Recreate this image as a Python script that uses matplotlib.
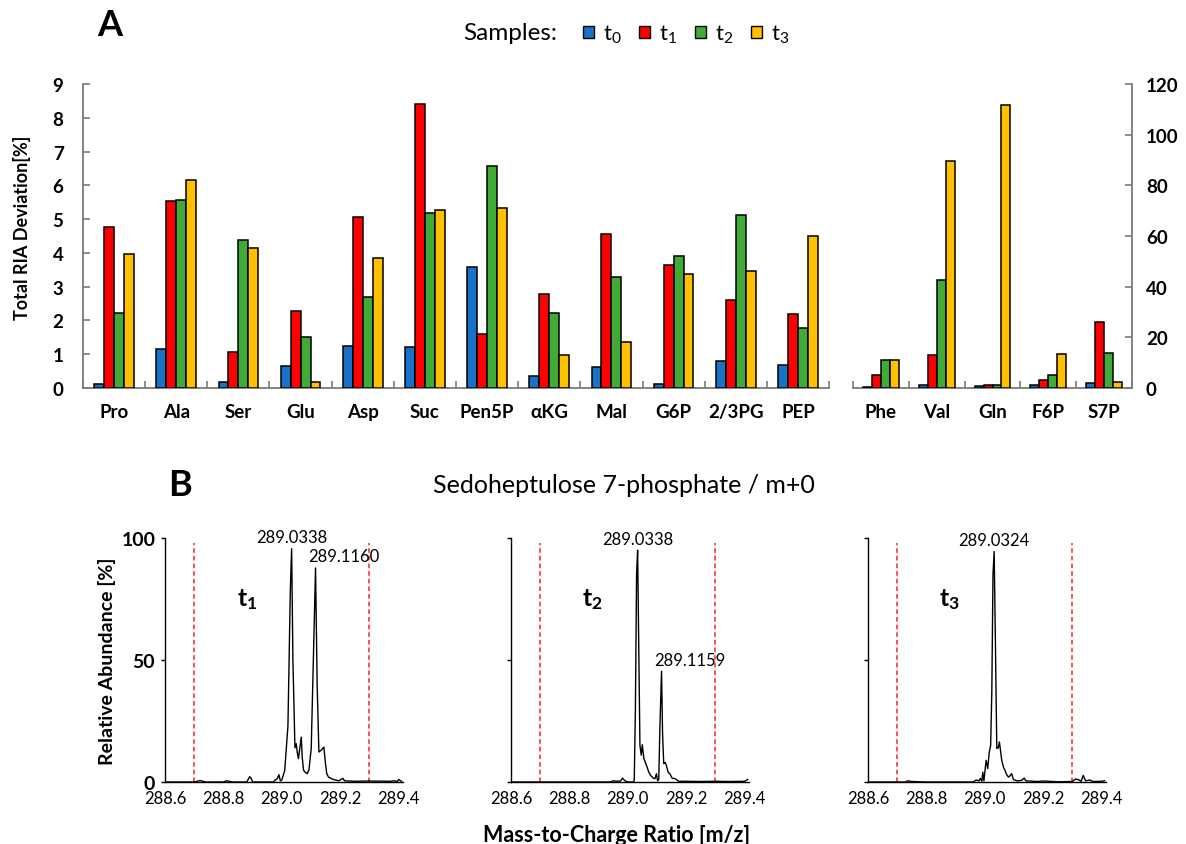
import numpy as np
import matplotlib
matplotlib.use("Agg")
import matplotlib.pyplot as plt
from matplotlib.patches import Patch

plt.rcParams['font.family'] = ['Lato', 'DejaVu Sans']
plt.rcParams['mathtext.fontset'] = 'custom'
plt.rcParams['mathtext.rm'] = 'Lato'
plt.rcParams['mathtext.it'] = 'Lato:italic'
plt.rcParams['mathtext.bf'] = 'Lato:bold'

# ---- panel A data ----
samples = ['t0', 't1', 't2', 't3']
sample_labels = [r'$\mathrm{t}_0$', r'$\mathrm{t}_1$', r'$\mathrm{t}_2$', r'$\mathrm{t}_3$']
colors = ['#1a72c8', '#ff0000', '#41ab37', '#ffc000']

left_cats = ['Pro', 'Ala', 'Ser', 'Glu', 'Asp', 'Suc', 'Pen5P', 'αKG', 'Mal', 'G6P', '2/3PG', 'PEP']
left_t0 = [0.13, 1.14, 0.17, 0.66, 1.24, 1.21, 3.59, 0.35, 0.61, 0.12, 0.80, 0.69]
left_t1 = [4.77, 5.54, 1.07, 2.29, 5.06, 8.41, 1.61, 2.77, 4.56, 3.64, 2.61, 2.18]
left_t2 = [2.23, 5.57, 4.38, 1.52, 2.69, 5.19, 6.57, 2.22, 3.29, 3.91, 5.11, 1.79]
left_t3 = [3.96, 6.16, 4.14, 0.19, 3.86, 5.27, 5.32, 0.98, 1.36, 3.37, 3.45, 4.50]

right_cats = ['Phe', 'Val', 'Gln', 'F6P', 'S7P']
right_t0 = [0.3, 1.0, 0.8, 1.0, 1.9]
right_t1 = [5.3, 13.1, 1.3, 3.0, 26.2]
right_t2 = [11.2, 42.5, 1.0, 5.3, 13.7]
right_t3 = [10.9, 89.5, 111.7, 13.3, 2.4]

left_ticks = [0, 1, 2, 3, 4, 5, 6, 7, 8, 9]
right_ticks = [0, 20, 40, 60, 80, 100, 120]

# ---- panel B data (m/z, relative abundance) ----
spec_t1 = [(288.60, 0), (288.70, 0), (288.72, 0.6), (288.73, 0.3), (288.74, 0), (288.80, 0),
           (288.81, 0.5), (288.82, 0.3), (288.83, 0), (288.88, 0), (288.89, 2.2), (288.895, 1.5),
           (288.90, 0), (288.97, 0), (288.985, 1.5), (288.99, 3.0), (288.995, 0.5), (289.00, 0.8),
           (289.01, 4.8), (289.021, 23), (289.029, 78), (289.0336, 95.6), (289.038, 50),
           (289.045, 14), (289.0495, 15.7), (289.053, 12), (289.057, 9.6), (289.0666, 18.4),
           (289.070, 10), (289.0745, 4.8), (289.080, 4.0), (289.087, 3.4), (289.093, 5.0),
           (289.1007, 13.7), (289.108, 50), (289.1155, 87.7), (289.121, 40), (289.127, 12.3),
           (289.135, 13), (289.144, 14.3), (289.150, 7), (289.154, 3.4), (289.160, 2.0),
           (289.175, 1.1), (289.195, 0.5), (289.205, 1.2), (289.209, 1.5), (289.215, 0.5),
           (289.25, 0.3), (289.30, 0.4), (289.37, 0.3), (289.385, 0.5), (289.395, 0.2),
           (289.40, 1.0), (289.41, 0.3)]
spec_t2 = [(288.60, 0), (288.94, 0), (288.95, 0.5), (288.96, 0.3), (288.975, 0.4), (288.982, 1.6),
           (288.99, 0.5), (289.00, 0), (289.018, 0), (289.022, 0.5), (289.026, 30), (289.030, 85),
           (289.0336, 95), (289.037, 60), (289.0415, 15), (289.046, 11), (289.0495, 15.3),
           (289.055, 9.6), (289.064, 6.8), (289.072, 4.0), (289.078, 2.7), (289.088, 1.5),
           (289.093, 1.4), (289.098, 3.4), (289.102, 0.5), (289.106, 1.0), (289.110, 23),
           (289.1155, 45.4), (289.119, 20), (289.123, 7.5), (289.128, 8.0), (289.132, 6.8),
           (289.138, 4.0), (289.144, 3.4), (289.152, 1.5), (289.161, 1.4), (289.175, 0.3),
           (289.20, 0.3), (289.25, 0.2), (289.30, 0.3), (289.35, 0.2), (289.40, 0.3), (289.41, 1.0)]
spec_t3 = [(288.60, 0), (288.73, 0), (288.735, 0.5), (288.75, 0.2), (288.80, 0), (288.96, 0),
           (288.97, 0.8), (288.98, 0.5), (288.985, 1.5), (288.99, 0.3), (288.993, 4.0),
           (288.997, 0.5), (289.0045, 8.9), (289.010, 5.5), (289.015, 12), (289.020, 15),
           (289.024, 37), (289.028, 85), (289.032, 94.5), (289.036, 60), (289.041, 13.7),
           (289.046, 14), (289.050, 16.4), (289.058, 8.9), (289.064, 6.0), (289.069, 4.8),
           (289.075, 3.0), (289.081, 2.0), (289.086, 2.5), (289.092, 3.4), (289.098, 1.0),
           (289.11, 0.5), (289.125, 0.6), (289.135, 1.6), (289.14, 0.5), (289.18, 0.2),
           (289.20, 0.4), (289.25, 0.1), (289.30, 0.2), (289.31, 1.2), (289.32, 1.0),
           (289.33, 0.3), (289.337, 2.7), (289.345, 0.5), (289.36, 0.8), (289.37, 0.2),
           (289.40, 0.3), (289.41, 0.5)]

spectra = [spec_t1, spec_t2, spec_t3]
spec_names = [r'$\mathbf{t}_\mathbf{1}$', r'$\mathbf{t}_\mathbf{2}$', r'$\mathbf{t}_\mathbf{3}$']
peak_labels = [[(289.0338, 95.6, '289.0338'), (289.1160, 87.7, '289.1160')],
               [(289.0338, 95.0, '289.0338'), (289.1159, 45.4, '289.1159')],
               [(289.0324, 94.5, '289.0324')]]
window = [288.7, 289.3]
mz_ticks = [288.6, 288.8, 289.0, 289.2, 289.4]


W, H = 1186, 845
fig = plt.figure(figsize=(W / 100, H / 100), dpi=100)

def fx(px):
    return px / W

def fy(py):
    return 1 - py / H

spine_col = '#7a7a7a'


def bar_panel(ax, cats, series, width):
    x = np.arange(len(cats))
    n = len(series)
    for i, vals in enumerate(series):
        ax.bar(x + (i - (n - 1) / 2) * width, vals, width, color=colors[i],
               edgecolor='black', linewidth=1.1, zorder=3)
    ax.set_xlim(-0.5, len(cats) - 0.5)
    ax.set_xticks(x)
    ax.set_xticklabels(cats, fontsize=13.5, fontweight='bold')
    ax.set_xticks(np.arange(len(cats) + 1) - 0.5, minor=True)
    ax.tick_params(axis='x', which='major', length=0, pad=11)
    ax.tick_params(axis='x', which='minor', direction='in', length=5, color=spine_col, width=1.2)
    ax.spines['top'].set_visible(False)
    for s in ax.spines.values():
        s.set_color(spine_col)
        s.set_linewidth(1.3)


# ---- panel A ----
axL = fig.add_axes([fx(83), fy(389), fx(829) - fx(83), fy(85) - fy(389)])
bar_panel(axL, left_cats, [left_t0, left_t1, left_t2, left_t3], 0.16)
axL.set_ylim(0, 9)
axL.set_yticks(left_ticks)
axL.spines['right'].set_visible(False)
axL.tick_params(axis='y', direction='in', length=5, color=spine_col, width=1.2, pad=14)
for t in axL.get_yticklabels():
    t.set_fontsize(13.5)
    t.set_fontweight('bold')
fig.text(fx(22), fy(228), 'Total RIA Deviation[%]', fontsize=13, fontweight='bold',
         rotation=90, ha='center', va='center')

axR = fig.add_axes([fx(853), fy(389), fx(1132) - fx(853), fy(85) - fy(389)])
bar_panel(axR, right_cats, [right_t0, right_t1, right_t2, right_t3], 0.16)
axR.set_ylim(0, 120)
axR.set_yticks(right_ticks)
axR.spines['left'].set_visible(False)
axR.yaxis.tick_right()
axR.tick_params(axis='y', direction='in', length=5, color=spine_col, width=1.2, pad=10)
for t in axR.get_yticklabels():
    t.set_fontsize(13.5)
    t.set_fontweight('bold')

fig.text(fx(110), fy(26), 'A', fontsize=26, fontweight='bold', ha='center', va='center')
fig.text(fx(557), fy(33), 'Samples:', fontsize=17.5, ha='right', va='center')
handles = [Patch(facecolor=c, edgecolor='black', linewidth=1.0) for c in colors]
fig.legend(handles, sample_labels, ncol=4, loc='center left',
           bbox_to_anchor=(fx(567), fy(35)), frameon=False, fontsize=16,
           handlelength=0.5, handleheight=0.5, handletextpad=0.4, columnspacing=0.8,
           borderpad=0.2)

# ---- panel B ----
fig.text(fx(180), fy(486), 'B', fontsize=26, fontweight='bold', ha='center', va='center')
fig.text(fx(624), fy(486), 'Sedoheptulose 7-phosphate / m+0', fontsize=18, ha='center', va='center')

lefts = [165, 511, 868]
ax_w = fx(403) - fx(165)
for k, (spec, name, labs) in enumerate(zip(spectra, spec_names, peak_labels)):
    ax = fig.add_axes([fx(lefts[k]), fy(783), ax_w, fy(539) - fy(783)])
    mz, inten = np.array(spec).T
    ax.plot(mz, inten, color='black', linewidth=1.0, zorder=3)
    ax.vlines(window, 0, 98, colors='#ff2020', linestyles=(0, (3, 2)), linewidth=1.1)
    ax.set_xlim(288.6, 289.415)
    ax.set_ylim(0, 100)
    ax.set_xticks(mz_ticks)
    ax.set_xticklabels([f'{v:.1f}' for v in mz_ticks], fontsize=12)
    ax.tick_params(axis='x', length=0, pad=6)
    ax.set_yticks([0, 50, 100])
    ax.tick_params(axis='y', direction='out', length=3, width=1.0, pad=4)
    if k == 0:
        ax.set_yticklabels(['0', '50', '100'], fontsize=14, fontweight='bold')
        ax.set_ylabel('Relative Abundance [%]', fontsize=14, fontweight='bold', labelpad=4)
    else:
        ax.set_yticklabels([])
    for s in ['top', 'right']:
        ax.spines[s].set_visible(False)
    for s in ['left', 'bottom']:
        ax.spines[s].set_color('black')
        ax.spines[s].set_linewidth(1.0)
    ax.text(288.88, 75, name, fontsize=18, fontweight='bold', ha='center', va='center')
    for j, (px, py, txt) in enumerate(labs):
        if j == 0:
            ax.text(px, py + 1.5, txt, fontsize=12, ha='center', va='bottom')
        else:
            ax.text(px - 0.024, py + 1.5, txt, fontsize=12, ha='left', va='bottom')

fig.text(fx(617), fy(825), 'Mass-to-Charge Ratio [m/z]', fontsize=15.5, fontweight='bold',
         ha='center', va='top')

fig.savefig('out.png', dpi=100)
